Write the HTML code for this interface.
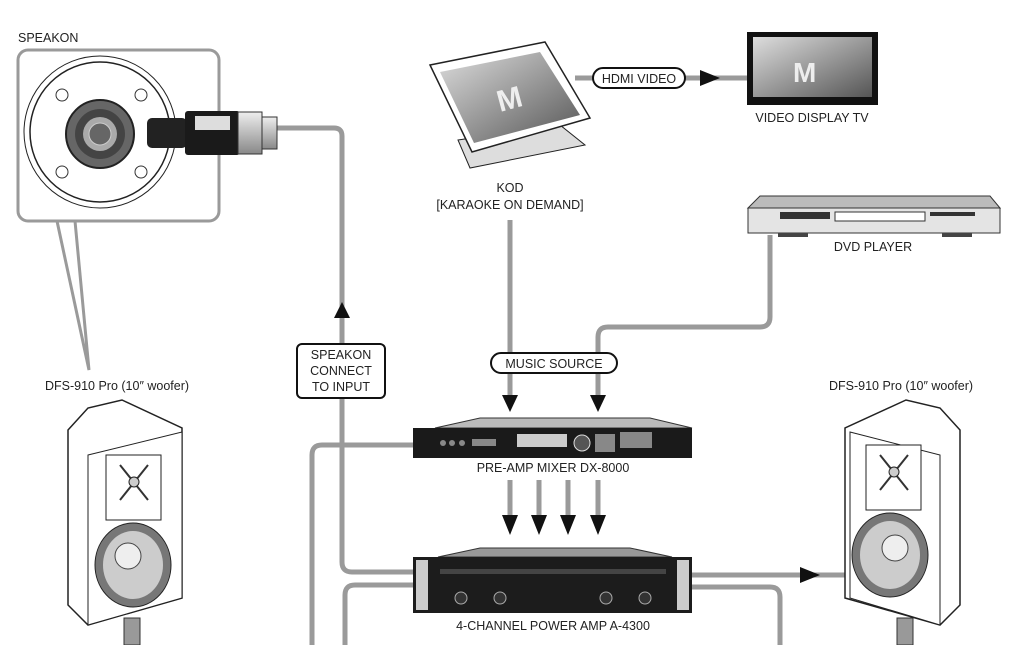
<!DOCTYPE html>
<html><head><meta charset="utf-8"><style>
html,body{margin:0;padding:0;background:#fff}
svg{display:block}
text{font-family:"Liberation Sans",sans-serif;fill:#222}
</style></head><body>
<svg width="1022" height="645" viewBox="0 0 1022 645" xmlns="http://www.w3.org/2000/svg">
<defs>
<linearGradient id="met" x1="0" y1="0" x2="0" y2="1"><stop offset="0" stop-color="#eee"/><stop offset="1" stop-color="#888"/></linearGradient>
<linearGradient id="scr" x1="0" y1="0" x2="1" y2="1"><stop offset="0" stop-color="#ddd"/><stop offset="0.5" stop-color="#999"/><stop offset="1" stop-color="#555"/></linearGradient>
</defs>
<g fill="none" stroke="#9a9a9a" stroke-width="5">
<path d="M277 128 H334 Q342 128 342 136 V562 Q342 572 352 572 H415"/>
<path d="M415 585 H355 Q345 585 345 595 V645"/>
<path d="M415 445 H322 Q312 445 312 455 V645"/>
<path d="M510 220 V395"/>
<path d="M770 235 V317 Q770 327 760 327 H608 Q598 327 598 337 V395"/>
<path d="M510 480 V515 M539 480 V515 M568 480 V515 M598 480 V515"/>
<path d="M692 575 H845"/>
<path d="M692 587 H770 Q780 587 780 597 V645"/>
<path d="M575 78 H748"/>
</g>
<g fill="#111">
<polygon points="334,318 350,318 342,302"/>
<polygon points="502,395 518,395 510,412"/>
<polygon points="590,395 606,395 598,412"/>
<polygon points="502,515 518,515 510,535"/>
<polygon points="531,515 547,515 539,535"/>
<polygon points="560,515 576,515 568,535"/>
<polygon points="590,515 606,515 598,535"/>
<polygon points="700,70 700,86 720,78"/>
<polygon points="800,567 800,583 820,575"/>
</g>
<rect x="297" y="344" width="88" height="54" rx="5" fill="#fff" stroke="#111" stroke-width="2"/>
<text x="341" y="359" font-size="12.5" text-anchor="middle">SPEAKON</text>
<text x="341" y="375" font-size="12.5" text-anchor="middle">CONNECT</text>
<text x="341" y="391" font-size="12.5" text-anchor="middle">TO INPUT</text>
<rect x="491" y="353" width="126" height="20" rx="10" fill="#fff" stroke="#111" stroke-width="2"/>
<text x="554" y="368" font-size="12.5" text-anchor="middle">MUSIC SOURCE</text>
<rect x="593" y="68" width="92" height="20" rx="10" fill="#fff" stroke="#111" stroke-width="2"/>
<text x="639" y="83" font-size="12.5" text-anchor="middle">HDMI VIDEO</text>
<text x="18" y="42" font-size="12.5">SPEAKON</text>
<path d="M57 221 L89 370 L75 221" fill="none" stroke="#9a9a9a" stroke-width="3"/>
<rect x="18" y="50" width="201" height="171" rx="10" fill="#fff" stroke="#9a9a9a" stroke-width="3"/>
<circle cx="100" cy="132" r="76" fill="#fff" stroke="#222" stroke-width="1"/>
<circle cx="100" cy="132" r="70" fill="none" stroke="#222" stroke-width="1.5"/>
<g fill="#fff" stroke="#333"><circle cx="62" cy="95" r="6"/><circle cx="141" cy="95" r="6"/><circle cx="62" cy="172" r="6"/><circle cx="141" cy="172" r="6"/></g>
<circle cx="100" cy="134" r="34" fill="#666" stroke="#222" stroke-width="2"/>
<circle cx="100" cy="134" r="25" fill="#444"/>
<circle cx="100" cy="134" r="17" fill="#aaa"/>
<circle cx="100" cy="134" r="11" fill="#666" stroke="#ccc"/>
<rect x="147" y="118" width="40" height="30" rx="5" fill="#222"/>
<rect x="185" y="111" width="55" height="44" rx="3" fill="#1a1a1a"/>
<rect x="195" y="116" width="35" height="14" fill="#ddd"/>
<rect x="238" y="112" width="24" height="42" fill="url(#met)" stroke="#333"/>
<rect x="262" y="117" width="15" height="32" fill="url(#met)" stroke="#333"/>
<!-- KOD monitor -->
<polygon points="458,140 560,125 585,145 470,168" fill="#ddd" stroke="#222"/>
<polygon points="430,65 545,42 590,118 472,152" fill="#fff" stroke="#222" stroke-width="1.5"/>
<polygon points="440,72 540,52 580,115 474,143" fill="url(#scr)"/>
<text x="500" y="112" font-size="30" font-weight="bold" style="fill:#eee" transform="rotate(-15 500 112)">M</text>
<text x="510" y="192" font-size="12.5" text-anchor="middle">KOD</text>
<text x="510" y="209" font-size="12.5" text-anchor="middle">[KARAOKE ON DEMAND]</text>
<rect x="747" y="32" width="131" height="73" fill="#111"/>
<rect x="753" y="37" width="119" height="60" fill="url(#scr)"/>
<text x="793" y="82" font-size="28" font-weight="bold" style="fill:#eee">M</text>
<text x="812" y="122" font-size="12.5" text-anchor="middle">VIDEO DISPLAY TV</text>
<polygon points="760,196 990,196 1000,208 748,208" fill="#bbb" stroke="#333"/>
<rect x="748" y="208" width="252" height="25" fill="#e4e4e4" stroke="#333"/>
<rect x="780" y="212" width="50" height="7" fill="#333"/>
<rect x="835" y="212" width="90" height="9" fill="#fff" stroke="#333"/>
<rect x="930" y="212" width="45" height="4" fill="#333"/>
<rect x="778" y="233" width="30" height="4" fill="#444"/><rect x="942" y="233" width="30" height="4" fill="#444"/>
<text x="873" y="251" font-size="12.5" text-anchor="middle">DVD PLAYER</text>
<polygon points="435,428 480,418 650,418 692,428" fill="#bbb" stroke="#333"/>
<rect x="413" y="428" width="279" height="30" fill="#1a1a1a"/>
<rect x="517" y="434" width="50" height="13" fill="#ccc"/>
<circle cx="582" cy="443" r="8" fill="#555" stroke="#ddd"/>
<g fill="#888"><circle cx="443" cy="443" r="3"/><circle cx="452" cy="443" r="3"/><circle cx="462" cy="443" r="3"/><rect x="472" y="439" width="24" height="7"/><rect x="595" y="434" width="20" height="18"/><rect x="620" y="432" width="32" height="16"/></g>
<text x="553" y="472" font-size="12.5" text-anchor="middle">PRE-AMP MIXER DX-8000</text>
<polygon points="438,557 480,548 630,548 672,557" fill="#999" stroke="#333"/>
<rect x="413" y="557" width="279" height="56" fill="#1c1c1c"/>
<rect x="416" y="560" width="12" height="50" fill="#ccc"/><rect x="677" y="560" width="12" height="50" fill="#ccc"/>
<rect x="440" y="569" width="226" height="5" fill="#444"/>
<g fill="#333" stroke="#aaa"><circle cx="461" cy="598" r="6"/><circle cx="500" cy="598" r="6"/><circle cx="606" cy="598" r="6"/><circle cx="645" cy="598" r="6"/></g>
<text x="553" y="630" font-size="12.5" text-anchor="middle">4-CHANNEL POWER AMP A-4300</text>
<g>
<text x="117" y="390" font-size="12.5" text-anchor="middle">DFS-910 Pro (10″ woofer)</text>
<rect x="124" y="618" width="16" height="27" fill="#999" stroke="#333"/>
<polygon points="68,430 88,408 122,400 182,428 182,598 88,625 68,605" fill="#fff" stroke="#222" stroke-width="1.5"/>
<polygon points="88,455 182,432 182,598 88,625" fill="#fff" stroke="#222"/>
<rect x="106" y="455" width="55" height="65" fill="#fff" stroke="#222"/>
<path d="M120 465 L148 500 M148 465 L120 500" stroke="#333" stroke-width="2"/>
<circle cx="134" cy="482" r="5" fill="#ccc" stroke="#222"/>
<ellipse cx="133" cy="565" rx="38" ry="42" fill="#777" stroke="#222"/>
<ellipse cx="133" cy="565" rx="30" ry="34" fill="#ccc"/>
<circle cx="128" cy="556" r="13" fill="#eee" stroke="#444"/>
</g>
<g>
<text x="901" y="390" font-size="12.5" text-anchor="middle">DFS-910 Pro (10″ woofer)</text>
<rect x="897" y="618" width="16" height="27" fill="#999" stroke="#333"/>
<polygon points="960,430 940,408 906,400 845,428 845,598 940,625 960,605" fill="#fff" stroke="#222" stroke-width="1.5"/>
<polygon points="850,432 940,455 940,625 850,598" fill="#fff" stroke="#222"/>
<rect x="866" y="445" width="55" height="65" fill="#fff" stroke="#222"/>
<path d="M880 455 L908 490 M908 455 L880 490" stroke="#333" stroke-width="2"/>
<circle cx="894" cy="472" r="5" fill="#ccc" stroke="#222"/>
<ellipse cx="890" cy="555" rx="38" ry="42" fill="#777" stroke="#222"/>
<ellipse cx="890" cy="555" rx="30" ry="34" fill="#ccc"/>
<circle cx="895" cy="548" r="13" fill="#eee" stroke="#444"/>
</g>
</svg>
</body></html>
